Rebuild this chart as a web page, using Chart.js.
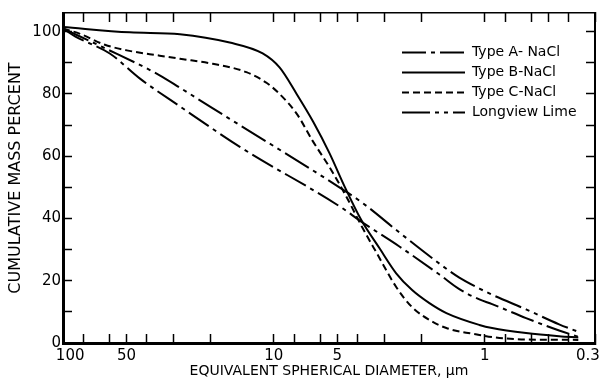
<!DOCTYPE html>
<html>
<head>
<meta charset="utf-8">
<script src="https://cdn.jsdelivr.net/npm/chart.js@4.4.1/dist/chart.umd.min.js"></script>
<style>
  html, body { margin: 0; padding: 0; background: #fff; }
  #wrap { width: 601px; height: 384px; }
</style>
</head>
<body>
<div id="wrap"><canvas id="psd" width="601" height="384"></canvas></div>
<script>
// diameters in micrometres, values in cumulative mass percent
const typeA_d = [100, 87.7, 60, 43.3, 27.9, 14.5, 4.73, 3.93, 2.54, 1.64, 1.32, 1.06, 0.923, 0.637, 0.444, 0.36];
const typeA_pct = [101, 98.5, 93, 85, 76, 63, 43.3, 39.4, 31, 22, 17.3, 14, 12.5, 8, 4, 2];

const typeB_d = [100, 48.2, 27.9, 16.2, 11.3, 9.4, 7.8, 6.5, 5.45, 4.6, 3.85, 3.16, 2.63, 2.21, 1.83, 1.52, 1.06, 0.923, 0.637, 0.444, 0.36];
const typeB_pct = [101.5, 99.8, 99.2, 96.5, 93, 88.5, 80, 71, 61, 50, 39.5, 30.5, 22.4, 17, 12.8, 9.6, 5.8, 4.8, 3.2, 2.2, 1.8];

const typeC_d = [100, 83, 63.3, 49.8, 34.8, 27.9, 19.5, 13.5, 10.8, 9.4, 7.8, 6.56, 5.45, 4.53, 3.8, 3.26, 2.63, 2.21, 1.83, 1.52, 1.06, 0.923, 0.637, 0.36];
const typeC_pct = [101, 99.3, 95.8, 94, 92.3, 91.3, 89.7, 87, 83.5, 80, 73.7, 65, 56.5, 47, 37, 29, 18, 11.5, 7.4, 4.8, 2.6, 1.9, 1.1, 1];

const lime_d = [100, 64.7, 34.8, 27.9, 16.2, 4.89, 3.8, 2.54, 1.64, 1.32, 1.06, 0.923, 0.637, 0.444, 0.36];
const lime_pct = [101, 95, 86, 82, 72, 50, 45, 35.5, 25.5, 21, 17.5, 15.5, 10.8, 6, 3.6];

const seriesNames = ["Type A- NaCl", "Type B-NaCl", "Type C-NaCl", "Longview Lime"];

const xTicks = [100, 80, 60, 50, 40, 30, 20, 10, 8, 6, 5, 4, 3, 2, 1, 0.8, 0.6, 0.5, 0.4, 0.3];
const xLabels = [100, 50, 10, 5, 1, 0.3];
const yTicks = [0, 10, 20, 30, 40, 50, 60, 70, 80, 90, 100];
const yLabels = [0, 20, 40, 60, 80, 100];

function pairs(ds, vs) {
    return ds.map((d, i) => ({ x: d, y: vs[i] }));
}

Chart.defaults.font.family = "DejaVu Sans";
Chart.defaults.color = "#000";

const tickFont = { size: 15 };

// the end labels sit a little inside the frame in the original
function xLabel(v) {
    if (!xLabels.includes(v)) return "";
    if (v === 100) return "   100";
    if (v === 0.3) return "0.3   ";
    return String(v);
}

// put the legend box in the upper right of the plot
const legendSpot = {
    id: "legendSpot",
    afterLayout(chart) {
        const lg = chart.legend;
        lg.left = 396;
        lg.top = 39.5;
        lg.right = 600;
        lg.bottom = 200;
        lg.width = lg.right - lg.left;
        lg.height = lg.bottom - lg.top;
    }
};

function noPad(s) {
    s.paddingLeft = 0;
    s.paddingRight = 0;
    s.paddingTop = 0;
    s.paddingBottom = 0;
}

function lineSet(label, data, dash) {
    return {
        label: label,
        data: data,
        borderColor: "#000",
        backgroundColor: "#000",
        borderWidth: 2,
        borderDash: dash,
        pointRadius: 0,
        cubicInterpolationMode: "monotone",
        fill: false
    };
}

function logAxis(position, extra) {
    return Object.assign({
        type: "logarithmic",
        position: position,
        reverse: true,
        min: 0.3,
        max: 100,
        afterBuildTicks: s => { s.ticks = xTicks.map(v => ({ value: v })); },
        grid: { drawOnChartArea: false, tickLength: -9, tickWidth: 1.5, tickColor: "#000" }
    }, extra);
}

function linAxis(position, extra) {
    return Object.assign({
        type: "linear",
        position: position,
        min: 0,
        max: 106,
        afterBuildTicks: s => { s.ticks = yTicks.map(v => ({ value: v })); },
        grid: { drawOnChartArea: false, tickLength: -9, tickWidth: 1.5, tickColor: "#000" }
    }, extra);
}

new Chart(document.getElementById("psd"), {
    type: "line",
    data: {
        datasets: [
            lineSet(seriesNames[0], pairs(typeA_d, typeA_pct), [24, 5, 4, 5]),
            lineSet(seriesNames[1], pairs(typeB_d, typeB_pct), []),
            lineSet(seriesNames[2], pairs(typeC_d, typeC_pct), [7, 4]),
            lineSet(seriesNames[3], pairs(lime_d, lime_pct), [28, 5, 4, 5, 4, 5])
        ]
    },
    options: {
        responsive: false,
        animation: false,
        layout: { padding: { top: 13, right: 6, left: 0, bottom: 0 } },
        plugins: {
            legend: {
                position: "chartArea",
                align: "start",
                labels: {
                    usePointStyle: true,
                    pointStyle: "line",
                    pointStyleWidth: 63,
                    padding: 6,
                    color: "#000",
                    font: { size: 14 },
                    generateLabels: chart => Chart.defaults.plugins.legend.labels.generateLabels(chart).map(item => {
                        const ds = chart.data.datasets[item.datasetIndex];
                        item.lineDash = ds.borderDash;
                        item.lineWidth = ds.borderWidth;
                        item.strokeStyle = ds.borderColor;
                        return item;
                    })
                }
            },
            tooltip: { enabled: false }
        },
        scales: {
            x: logAxis("bottom", {
                afterFit: s => { s.height = 41; noPad(s); },
                ticks: {
                    autoSkip: false,
                    maxRotation: 0,
                    padding: 13,
                    font: tickFont,
                    callback: v => xLabel(v)
                },
                border: { color: "#000", width: 3 },
                title: {
                    display: true,
                    text: "EQUIVALENT SPHERICAL DIAMETER, \u03bcm",
                    font: { size: 14 },
                    padding: { top: 0, bottom: 4 }
                }
            }),
            x2: logAxis("top", {
                afterFit: s => { s.height = 0; noPad(s); },
                ticks: { display: false },
                border: { color: "#000", width: 1.5 }
            }),
            y: linAxis("left", {
                afterFit: s => { s.width = 63; noPad(s); },
                ticks: {
                    autoSkip: false,
                    padding: 11,
                    font: tickFont,
                    callback: v => yLabels.includes(v) ? String(v) : ""
                },
                border: { color: "#000", width: 3 },
                title: {
                    display: true,
                    text: "CUMULATIVE MASS PERCENT",
                    font: { size: 16 },
                    padding: { top: 6, bottom: 0 }
                }
            }),
            y2: linAxis("right", {
                afterFit: s => { s.width = 0; noPad(s); },
                ticks: { display: false },
                border: { color: "#000", width: 2 }
            })
        }
    },
    plugins: [legendSpot]
});
</script>
</body>
</html>
